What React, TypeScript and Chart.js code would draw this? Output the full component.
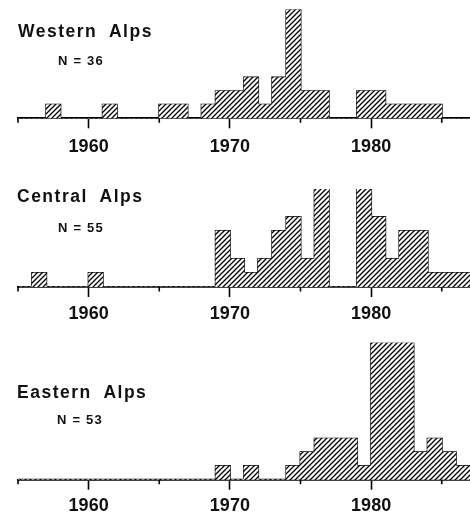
import React, { useEffect, useRef } from 'react';
import { Chart, registerables } from 'chart.js';

Chart.register(...registerables);

// ---- data ----
const years = [
  1955, 1956, 1957, 1958, 1959, 1960, 1961, 1962, 1963, 1964, 1965,
  1966, 1967, 1968, 1969, 1970, 1971, 1972, 1973, 1974, 1975, 1976,
  1977, 1978, 1979, 1980, 1981, 1982, 1983, 1984, 1985, 1986,
];
const westernCounts = [
  0, 0, 1, 0, 0, 0, 1, 0, 0, 0, 1,
  1, 0, 1, 2, 2, 3, 1, 3, 8, 2, 2,
  0, 0, 2, 2, 1, 1, 1, 1, 0, 0,
];
const centralCounts = [
  0, 1, 0, 0, 0, 1, 0, 0, 0, 0, 0,
  0, 0, 0, 4, 2, 1, 2, 4, 5, 2, 7,
  0, 0, 7, 5, 2, 4, 4, 1, 1, 1,
];
const easternCounts = [
  0, 0, 0, 0, 0, 0, 0, 0, 0, 0, 0,
  0, 0, 0, 1, 0, 1, 0, 0, 1, 2, 3,
  3, 3, 1, 10, 10, 10, 2, 3, 2, 1,
];
const tickYears = [1960, 1970, 1980];
const minorTickYears = [1955, 1965, 1975, 1985];
const panelTitles = ['Western Alps', 'Central Alps', 'Eastern Alps'];
const panelNs = ['N = 36', 'N = 55', 'N = 53'];
const axisStart = 1955;
const axisEnd = 1987;

// ---- layout ----
const W = 470;
const H = 516;
const FONT = "'Liberation Sans', Arial, sans-serif";

const panels = [
  { counts: westernCounts, yMax: 8, areaTop: 9.5, axisY: 118.3, tickPad: 8, titleLeft: 18, titleTop: 23.2, nLeft: 58, nTop: 54.3 },
  { counts: centralCounts, yMax: 7, areaTop: 189, axisY: 287, tickPad: 6, titleLeft: 17, titleTop: 188, nLeft: 58, nTop: 221 },
  { counts: easternCounts, yMax: 10, areaTop: 342.7, axisY: 479.7, tickPad: 6, titleLeft: 17, titleTop: 384.4, nLeft: 57, nTop: 413 },
];

function makeHatch(): CanvasPattern | string {
  const s = 5;
  const c = document.createElement('canvas');
  c.width = s;
  c.height = s;
  const g = c.getContext('2d');
  if (!g) return '#999';
  g.fillStyle = '#fff';
  g.fillRect(0, 0, s, s);
  g.strokeStyle = '#000';
  g.lineWidth = 1.3;
  g.beginPath();
  g.moveTo(-1, s + 1);
  g.lineTo(s + 1, -1);
  g.moveTo(-s / 2 - 1, s / 2 + 1);
  g.lineTo(s / 2 + 1, -s / 2 - 1);
  g.moveTo(s / 2 - 1, s * 1.5 + 1);
  g.lineTo(s * 1.5 + 1, s / 2 - 1);
  g.stroke();
  const p = g.createPattern(c, 'repeat');
  return p || '#999';
}

const minorTicksPlugin = {
  id: 'minorTicks',
  afterDraw(chart: any) {
    const xs = chart.scales.x;
    const ctx = chart.ctx;
    ctx.save();
    ctx.strokeStyle = '#000';
    ctx.lineWidth = 1.6;
    minorTickYears.forEach((v) => {
      const px = xs.getPixelForValue(v);
      ctx.beginPath();
      ctx.moveTo(px, xs.top);
      ctx.lineTo(px, xs.top + 4.5);
      ctx.stroke();
    });
    ctx.restore();
  },
};

function Panel({ idx }: { idx: number }) {
  const ref = useRef<HTMLCanvasElement | null>(null);
  useEffect(() => {
    if (!ref.current) return;
    const p = panels[idx];
    const barData = years.map((y, i) => ({ x: y + 0.5, y: p.counts[i] }));
    const outline = years.map((y, i) => ({ x: y, y: p.counts[i] }));
    outline.push({ x: axisEnd, y: 0 });
    const chart = new Chart(ref.current, {
      type: 'bar',
      data: {
        datasets: [
          {
            type: 'bar',
            data: barData,
            backgroundColor: makeHatch() as any,
            borderWidth: 0,
            barPercentage: 1,
            categoryPercentage: 1,
            grouped: false,
          } as any,
          {
            type: 'line',
            data: outline,
            borderColor: '#000',
            borderWidth: 1.9,
            pointRadius: 0,
            fill: false,
            stepped: 'before',
          } as any,
        ],
      },
      options: {
        animation: false,
        responsive: false,
        maintainAspectRatio: false,
        events: [],
        layout: { padding: { top: p.areaTop, left: 18, right: 0, bottom: 0 } },
        plugins: { legend: { display: false }, tooltip: { enabled: false }, title: { display: false } },
        scales: {
          x: {
            type: 'linear',
            min: axisStart,
            max: axisEnd,
            offset: false,
            afterFit: (s: any) => {
              s.height = H - p.axisY;
            },
            afterBuildTicks: (s: any) => {
              s.ticks = tickYears.map((v) => ({ value: v }));
            },
            grid: {
              display: true,
              offset: false,
              drawOnChartArea: false,
              drawTicks: true,
              tickLength: 10,
              tickColor: '#000',
              tickWidth: 1.6,
            },
            border: { display: true, color: '#000', width: 1.7 },
            ticks: {
              autoSkip: false,
              maxRotation: 0,
              padding: p.tickPad,
              color: '#111',
              font: { family: FONT, size: 18, weight: 'bold' },
              callback: (v: any) => String(v),
            },
          },
          y: {
            type: 'linear',
            display: false,
            min: 0,
            max: p.yMax,
          },
        },
      } as any,
      plugins: [minorTicksPlugin],
    });
    return () => chart.destroy();
  }, [idx]);
  const p = panels[idx];
  return (
    <>
      <canvas
        ref={ref}
        width={W}
        height={H}
        style={{ position: 'absolute', left: 0, top: 0, width: W, height: H }}
      />
      <div
        style={{
          position: 'absolute',
          left: p.titleLeft,
          top: p.titleTop,
          fontFamily: FONT,
          fontSize: 17.5,
          fontWeight: 'bold',
          lineHeight: 1,
          letterSpacing: 1.5,
          wordSpacing: 6,
          color: '#111',
          whiteSpace: 'nowrap',
        }}
      >
        {panelTitles[idx]}
      </div>
      <div
        style={{
          position: 'absolute',
          left: p.nLeft,
          top: p.nTop,
          fontFamily: FONT,
          fontSize: 13,
          fontWeight: 'bold',
          lineHeight: 1,
          letterSpacing: 1.2,
          color: '#111',
          whiteSpace: 'nowrap',
        }}
      >
        {panelNs[idx]}
      </div>
    </>
  );
}

export default function App() {
  return (
    <div
      style={{
        position: 'fixed',
        left: 0,
        top: 0,
        width: W,
        height: H,
        background: '#fff',
        overflow: 'hidden',
      }}
    >
      <Panel idx={0} />
      <Panel idx={1} />
      <Panel idx={2} />
    </div>
  );
}
